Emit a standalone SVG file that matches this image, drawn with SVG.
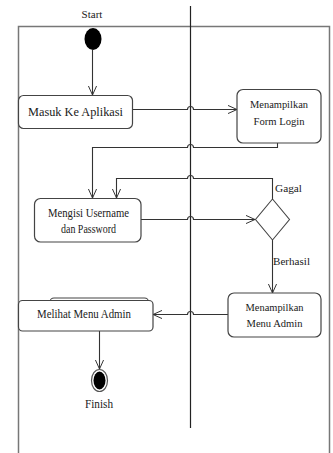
<svg xmlns="http://www.w3.org/2000/svg" width="333" height="453" viewBox="0 0 333 453" font-family="'Liberation Serif', 'Times New Roman', 'DejaVu Serif', serif">
  <defs>
    <marker id="open" viewBox="0 0 10 10" refX="10" refY="5" markerWidth="9" markerHeight="9" markerUnits="userSpaceOnUse" orient="auto">
      <path d="M0,0.5 L10,5 L0,9.5" fill="none" stroke="#333" stroke-width="1.1"/>
    </marker>
  </defs>
  <style>
    .frame { fill: none; stroke: #777; stroke-width: 1.5; }
    .lane { fill: none; stroke: #222; stroke-width: 1.2; }
    .box { fill: #fff; stroke: #444; stroke-width: 1.2; }
    .edge { fill: none; stroke: #333; stroke-width: 1.1; }
    .arrow { marker-end: url(#open); }
    text { font-family: "Liberation Serif", "Times New Roman", "DejaVu Serif", serif; fill: #1a1a1a; text-anchor: middle; }
    .t13 { font-size: 13px; }
    .t12 { font-size: 12px; }
    .t11 { font-size: 11px; }
  </style>

  <rect width="333" height="453" fill="#fff"/>

  <!-- swimlane frame and divider -->
  <path class="frame" d="M18.5,453 V26.5 H329.5 V453"/>
  <line class="lane" x1="190.5" y1="6" x2="190.5" y2="428"/>

  <!-- connectors -->
  <g id="connectors">
    <line class="edge arrow" x1="92.5" y1="50" x2="92.5" y2="95"/>
    <path class="edge arrow" d="M132.5,109.5 H187.5 a3,3 0 0 1 6,0 H237"/>
    <path class="edge arrow" d="M277.5,143 V147.5 H193.5 a3,3 0 0 0 -6,0 H92.5 V198"/>
    <path class="edge arrow" d="M272.5,199 V178.5 H193.5 a3,3 0 0 0 -6,0 H116.5 V198"/>
    <path class="edge arrow" d="M141,219.5 H187.5 a3,3 0 0 1 6,0 H255"/>
    <line class="edge arrow" x1="272.5" y1="240" x2="272.5" y2="293"/>
    <path class="edge arrow" d="M228,314.5 H193.5 a3,3 0 0 0 -6,0 H153"/>
    <line class="edge arrow" x1="99.5" y1="331" x2="99.5" y2="369"/>
  </g>

  <g id="start">
    <text class="t11" x="92" y="18">Start</text>
    <ellipse cx="93" cy="39" rx="8.5" ry="11" fill="#000"/>
  </g>

  <g id="masuk">
    <rect class="box" x="18.5" y="95.5" width="114" height="33" rx="5"/>
    <text class="t13" x="75.5" y="115.5" textLength="95" lengthAdjust="spacingAndGlyphs">Masuk Ke Aplikasi</text>
  </g>

  <g id="form-login">
    <rect class="box" x="237" y="89.5" width="84" height="53.5" rx="6"/>
    <text class="t11" x="279" y="108" textLength="58" lengthAdjust="spacingAndGlyphs">Menampilkan</text>
    <text class="t11" x="279" y="124.5" textLength="51" lengthAdjust="spacingAndGlyphs">Form Login</text>
  </g>

  <g id="mengisi">
    <rect class="box" x="34.5" y="198.5" width="106.5" height="43.5" rx="6"/>
    <text class="t12" x="88.5" y="216.5" textLength="81" lengthAdjust="spacingAndGlyphs">Mengisi Username</text>
    <text class="t12" x="88.5" y="232.5" textLength="55" lengthAdjust="spacingAndGlyphs">dan Password</text>
  </g>

  <g id="keputusan">
    <polygon points="272.5,199 289.5,219.5 272.5,240 255.5,219.5" fill="#fff" stroke="#444" stroke-width="1.1"/>
    <text class="t11" x="288.5" y="192" textLength="27" lengthAdjust="spacingAndGlyphs">Gagal</text>
    <text class="t11" x="291.5" y="265" textLength="37" lengthAdjust="spacingAndGlyphs">Berhasil</text>
  </g>

  <g id="menu-admin">
    <rect class="box" x="228" y="293" width="93" height="44" rx="6"/>
    <text class="t11" x="274.5" y="311" textLength="58" lengthAdjust="spacingAndGlyphs">Menampilkan</text>
    <text class="t11" x="274.5" y="326.5" textLength="56" lengthAdjust="spacingAndGlyphs">Menu Admin</text>
  </g>

  <g id="melihat">
    <rect class="box" x="50" y="298" width="98.5" height="30" rx="4"/>
    <rect class="box" x="18.5" y="300.5" width="134.5" height="30.5" rx="4"/>
    <text class="t13" x="84" y="318" textLength="94" lengthAdjust="spacingAndGlyphs">Melihat Menu Admin</text>
  </g>

  <g id="finish">
    <ellipse cx="99.5" cy="380.5" rx="8" ry="11" fill="#fff" stroke="#555" stroke-width="1.2"/>
    <ellipse cx="99.5" cy="380.5" rx="6" ry="9" fill="#000"/>
    <text class="t12" x="99" y="408" textLength="28" lengthAdjust="spacingAndGlyphs">Finish</text>
  </g>
</svg>
